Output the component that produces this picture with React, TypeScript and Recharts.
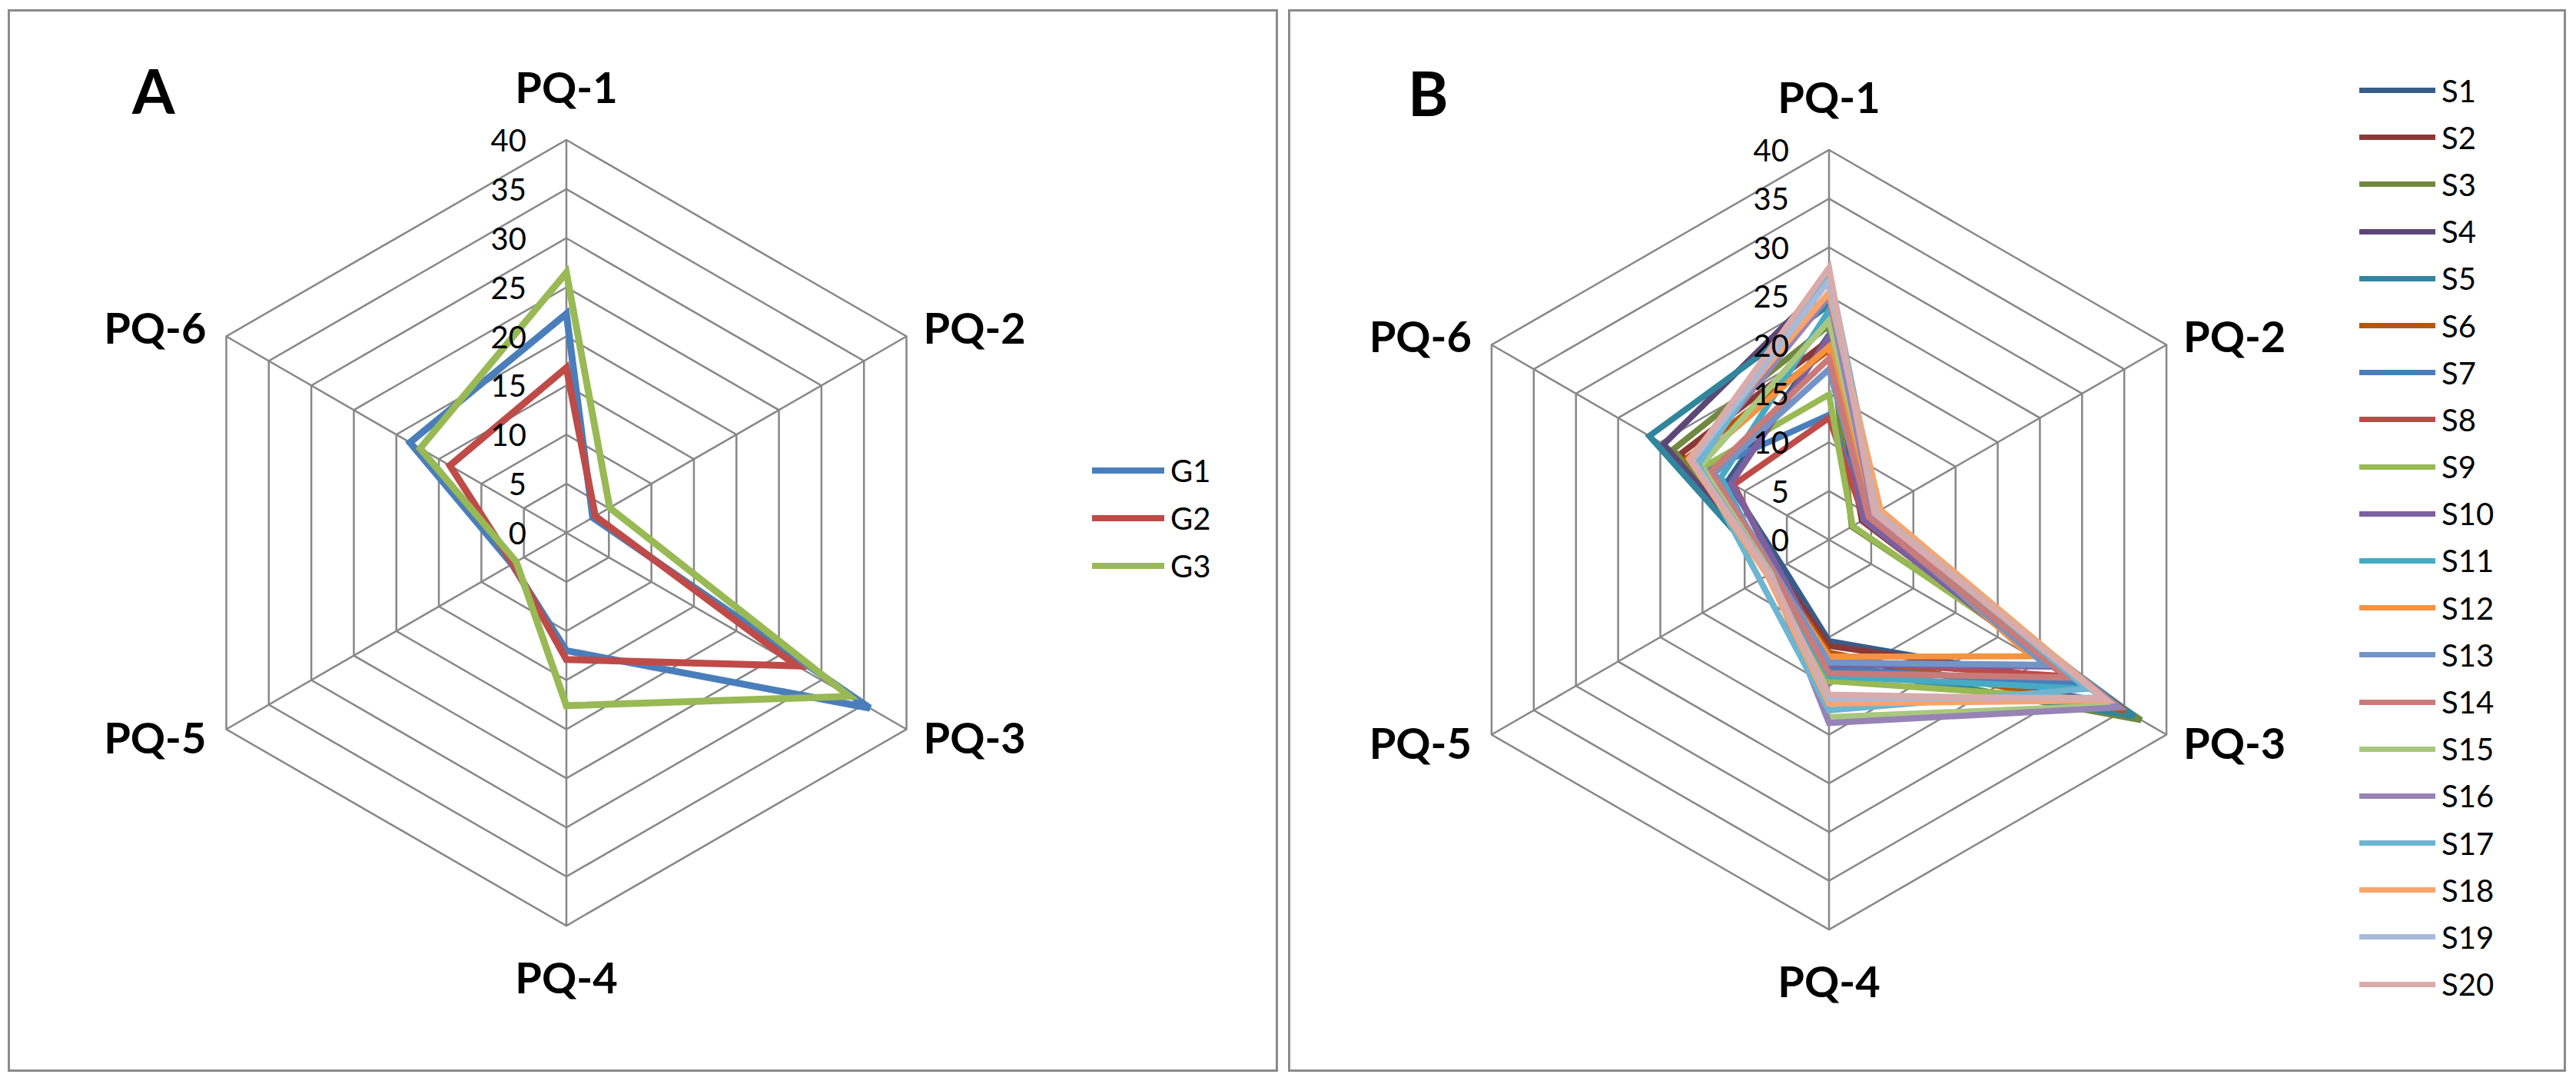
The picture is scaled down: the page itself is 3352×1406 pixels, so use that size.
import React from 'react';
import { RadarChart, Radar, PolarGrid, PolarAngleAxis, PolarRadiusAxis, Legend } from 'recharts';

// axis categories and radius ticks
const subjects = ['PQ-1', 'PQ-2', 'PQ-3', 'PQ-4', 'PQ-5', 'PQ-6'];
const radiusDomain = [0, 40];

// panel A: group means
const g1 = [22.3, 3.1, 35.7, 12.0, 6.4, 18.4];
const g2 = [16.8, 3.4, 27.1, 12.9, 6.3, 13.7];
const g3 = [26.5, 5.1, 33.3, 17.6, 5.9, 17.2];

// panel B: individual samples
const s1 = [21.0, 4.0, 29.8, 10.4, 5.5, 12.0];
const s2 = [20.5, 3.9, 29.0, 10.9, 6.2, 17.6];
const s3 = [22.0, 2.7, 37.0, 12.6, 6.4, 18.5];
const s4 = [26.5, 4.6, 33.4, 12.0, 6.6, 19.6];
const s5 = [24.1, 4.4, 36.2, 13.0, 6.8, 21.3];
const s6 = [19.5, 4.3, 35.1, 11.6, 6.5, 16.8];
const s7 = [12.8, 4.6, 29.5, 13.2, 6.3, 14.4];
const s8 = [12.5, 4.2, 28.0, 12.4, 6.2, 11.3];
const s9 = [14.9, 2.8, 33.0, 14.5, 6.6, 14.9];
const s10 = [20.8, 4.1, 26.0, 12.8, 6.0, 11.6];
const s11 = [23.5, 5.0, 30.6, 14.0, 6.9, 12.8];
const s12 = [19.8, 5.2, 23.9, 12.0, 6.7, 15.8];
const s13 = [17.5, 4.8, 25.7, 12.6, 6.5, 13.6];
const s14 = [18.6, 4.7, 28.3, 13.7, 6.6, 14.0];
const s15 = [22.5, 5.5, 34.0, 18.2, 6.9, 15.2];
const s16 = [25.0, 5.3, 34.4, 18.8, 7.0, 16.0];
const s17 = [27.5, 5.8, 30.6, 17.5, 8.2, 15.5];
const s18 = [25.4, 6.1, 33.0, 16.8, 7.3, 16.6];
const s19 = [26.6, 5.6, 32.4, 16.3, 7.0, 16.2];
const s20 = [27.9, 5.4, 32.8, 15.9, 7.1, 16.4];

const groupNames = ['G1', 'G2', 'G3'];
const groupValues = [g1, g2, g3];
const groupColors = ['#4A7EBB', '#BE4B48', '#98B954'];

const sampleNames = ['S1', 'S2', 'S3', 'S4', 'S5', 'S6', 'S7', 'S8', 'S9', 'S10',
  'S11', 'S12', 'S13', 'S14', 'S15', 'S16', 'S17', 'S18', 'S19', 'S20'];
const sampleValues = [s1, s2, s3, s4, s5, s6, s7, s8, s9, s10,
  s11, s12, s13, s14, s15, s16, s17, s18, s19, s20];
const sampleColors = ['#385D8A', '#8C3836', '#71893F', '#5C4776', '#31859C', '#B65708',
  '#4A7EBB', '#BE4B48', '#98B954', '#7D60A0', '#46AAC5', '#F69240',
  '#7394C7', '#C97B79', '#AAC77F', '#9783B5', '#6DB5D0', '#F9A46C', '#A7BADA', '#D9ABAA'];

const buildRows = (names: string[], values: number[][]) =>
  subjects.map((subject, i) => {
    const row: any = { subject };
    names.forEach((n, k) => { row[n] = values[k][i]; });
    return row;
  });

const dataA = buildRows(groupNames, groupValues);
const dataB = buildRows(sampleNames, sampleValues);

const FONT = 'Lato, "Open Sans", sans-serif';
const GRID = '#878787';

const makeAngleTick = (cx: number, cy: number, R: number) => (props: any) => {
  const { x, y, payload } = props;
  const a = Math.atan2(cy - y, x - cx);
  const c = Math.cos(a), s = Math.sin(a);
  const vx = cx + R * c, vy = cy - R * s;
  let tx = vx, ty = vy, anchor: any = 'middle';
  if (Math.abs(c) < 0.05) {
    ty = s > 0 ? vy - 70 : vy + 66;
  } else {
    tx = c > 0 ? vx + 22 : vx - 26;
    anchor = c > 0 ? 'start' : 'end';
    ty = s > 0 ? vy - 12 : vy + 10;
  }
  return (
    <text x={tx} y={ty} textAnchor={anchor} dominantBaseline="central"
      fontFamily={FONT} fontWeight="bold" fontSize={56} fill="#000">
      {payload.value}
    </text>
  );
};

const radiusTick = (props: any) => (
  <text x={props.x - 52} y={props.y} textAnchor="end" dominantBaseline="central"
    fontFamily={FONT} fontSize={40} fill="#000">
    {props.payload.value}
  </text>
);

// keep the legend in series order (recharts sorts by name otherwise)
const makeLegend = (names: string[], lineW: number, rowH: number, lineH: number) => (props: any) => {
  const items = [...(props.payload || [])].sort(
    (a: any, b: any) => names.indexOf(a.value) - names.indexOf(b.value));
  return (
    <div>
      {items.map((p: any) => (
        <div key={p.value} style={{ display: 'flex', alignItems: 'center', height: rowH }}>
          <div style={{ width: lineW, height: lineH, background: p.color }} />
          <span style={{ marginLeft: 8, fontFamily: FONT, fontSize: 40, lineHeight: 1, color: '#000' }}>{p.value}</span>
        </div>
      ))}
    </div>
  );
};

interface PanelProps {
  data: any[];
  names: string[];
  colors: string[];
  left: number;
  width: number;
  cx: number;
  cy: number;
  R: number;
  strokeW: number;
  legendLeft: number;
  legendTop: number;
  legendLineW: number;
  legendRowH: number;
  legendLineH: number;
}

const Panel: React.FC<PanelProps> = (p) => (
  <div style={{ position: 'absolute', left: p.left, top: 0 }}>
    <RadarChart width={p.width} height={1406} data={p.data} cx={p.cx} cy={p.cy}
      outerRadius={p.R} margin={{ top: 0, right: 0, bottom: 0, left: 0 }}>
      <PolarGrid gridType="polygon" stroke={GRID} strokeWidth={2.5} />
      <PolarAngleAxis dataKey="subject" axisLine={false} tickLine={false}
        tick={makeAngleTick(p.cx, p.cy, p.R)} />
      <PolarRadiusAxis angle={90} domain={radiusDomain} tickCount={9} axisLine={false}
        tickLine={false} tick={radiusTick} />
      {p.names.map((n, i) => (
        <Radar key={n} name={n} dataKey={n} stroke={p.colors[i]} strokeWidth={p.strokeW}
          fill="none" fillOpacity={0} dot={false} isAnimationActive={false} />
      ))}
      <Legend layout="vertical" align="right" verticalAlign="middle"
        content={makeLegend(p.names, p.legendLineW, p.legendRowH, p.legendLineH)}
        wrapperStyle={{ left: p.legendLeft, top: p.legendTop, right: 'auto', bottom: 'auto', width: 'auto' }} />
    </RadarChart>
  </div>
);

const letterStyle: React.CSSProperties = {
  position: 'absolute', fontFamily: FONT, fontWeight: 'bold', fontSize: 80, lineHeight: 1, color: '#000',
};

export default function App() {
  return (
    <div style={{ position: 'absolute', left: 0, top: 0, width: 3352, height: 1406, background: '#fff', overflow: 'hidden' }}>
      <div style={{ position: 'absolute', left: 10, top: 12, width: 1653, height: 1382, border: '3px solid #8a8a8a', boxSizing: 'border-box' }} />
      <div style={{ position: 'absolute', left: 1676, top: 12, width: 1663, height: 1382, border: '3px solid #8a8a8a', boxSizing: 'border-box' }} />
      <Panel data={dataA} names={groupNames} colors={groupColors} left={0} width={1670}
        cx={737} cy={693} R={511} strokeW={9}
        legendLeft={1421} legendTop={581} legendLineW={94} legendRowH={62} legendLineH={8} />
      <Panel data={dataB} names={sampleNames} colors={sampleColors} left={1670} width={1682}
        cx={710} cy={702} R={507} strokeW={8}
        legendLeft={1400} legendTop={87} legendLineW={99} legendRowH={61.2} legendLineH={7} />
      <div style={{ ...letterStyle, left: 172, top: 77 }}>A</div>
      <div style={{ ...letterStyle, left: 1832, top: 80 }}>B</div>
    </div>
  );
}
